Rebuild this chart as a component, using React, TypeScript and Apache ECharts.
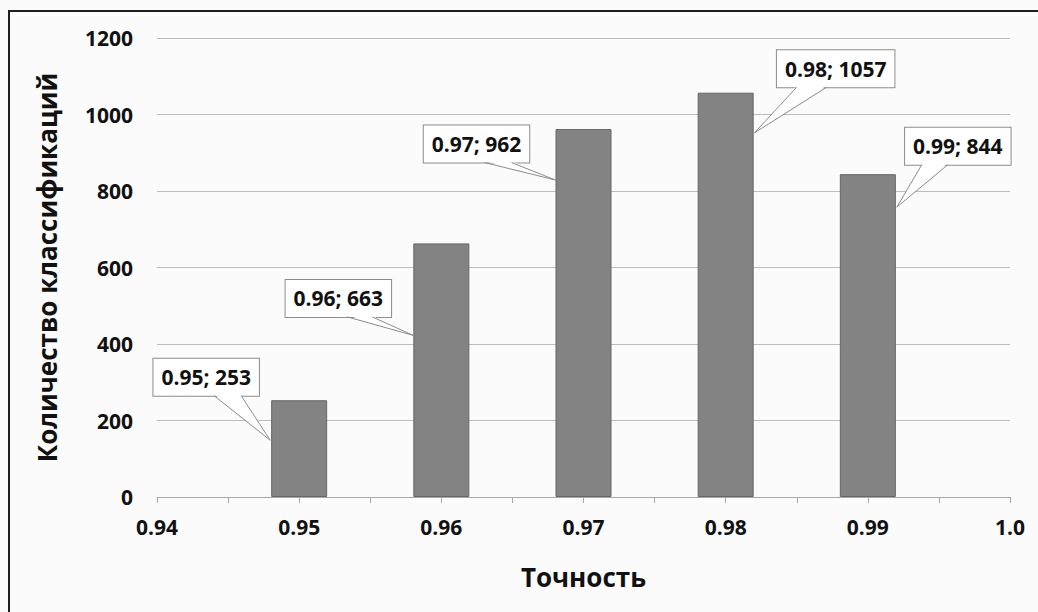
import React, { useEffect, useRef } from "react";
import * as echarts from "echarts";

const accuracy = [0.95, 0.96, 0.97, 0.98, 0.99];
const counts = [253, 663, 962, 1057, 844];
const xTicks = { min: 0.94, max: 1.0, step: 0.01 };
const yTicks = { min: 0, max: 1200, step: 200 };
const xTitle = "Точность";
const yTitle = "Количество классификаций";

// callout placement relative to the top-centre of each bar (pixels)
const calloutLayout = [
  { box: [-93, -23], anchor: [-29, 40], base: [8, 35] },
  { box: [-103, 55], anchor: [-28, 92], base: [9, 34] },
  { box: [-107, 15], anchor: [-28, 51], base: [8, 35] },
  { box: [110, -24], anchor: [29, 40], base: [-39, -9] },
  { box: [90, -28], anchor: [29, 33], base: [-36, -10] },
];

const FONT = "'Open Sans', 'Noto Sans', sans-serif";
const TEXT = "#111111";

export default function App() {
  const ref = useRef<HTMLDivElement>(null);
  useEffect(() => {
    document.body.style.margin = "0";
    const chart = echarts.init(ref.current!, null, { renderer: "svg" });
    const fmtX = (v: number) => (Math.abs(v - 1) < 1e-9 ? "1.0" : v.toFixed(2));
    const pts = accuracy.map((a, i) => [a, counts[i]]);
    chart.setOption({
      animation: false,
      backgroundColor: "#fbfbfb",
      grid: { left: 157, right: 28, top: 38, bottom: 115, containLabel: false },
      xAxis: {
        type: "value",
        min: xTicks.min,
        max: xTicks.max,
        interval: xTicks.step,
        name: xTitle,
        nameLocation: "middle",
        nameGap: 67,
        nameTextStyle: { fontFamily: FONT, fontWeight: "bold", fontSize: 26, color: TEXT },
        axisLine: { show: true, lineStyle: { color: "#a8a8a8", width: 1 } },
        axisTick: { show: true, length: 6, lineStyle: { color: "#a8a8a8" } },
        minorTick: { show: true, splitNumber: 2, length: 6, lineStyle: { color: "#a8a8a8" } },
        splitLine: { show: false },
        axisLabel: {
          formatter: fmtX,
          margin: 19,
          fontFamily: FONT,
          fontWeight: "bold",
          fontSize: 21,
          color: TEXT,
        },
      },
      yAxis: {
        type: "value",
        min: yTicks.min,
        max: yTicks.max,
        interval: yTicks.step,
        name: yTitle,
        nameLocation: "middle",
        nameRotate: 90,
        nameGap: 97,
        nameTextStyle: { fontFamily: FONT, fontWeight: "bold", fontSize: 26, color: TEXT },
        axisLine: { show: false },
        axisTick: { show: false },
        splitLine: { show: true, lineStyle: { color: "#bdbdbd", width: 1 } },
        axisLabel: {
          formatter: (v: number) => String(v),
          margin: 24,
          fontFamily: FONT,
          fontWeight: "bold",
          fontSize: 21,
          color: TEXT,
        },
      },
      series: [
        {
          type: "bar",
          data: pts,
          barWidth: 56,
          itemStyle: { color: "#838383", borderColor: "#666666", borderWidth: 1 },
          z: 2,
        },
        {
          type: "custom",
          data: pts,
          z: 5,
          renderItem: (params: any, api: any) => {
            const x = api.value(0);
            const y = api.value(1);
            const p = api.coord([x, y]);
            const L = calloutLayout[params.dataIndex];
            const bx = p[0] + L.box[0];
            const by = p[1] + L.box[1];
            const ax = p[0] + L.anchor[0];
            const ay = p[1] + L.anchor[1];
            const bottom = by + 18.5;
            const b1 = bx + L.base[0];
            const b2 = bx + L.base[1];
            const label = `${fmtX(x)}; ${y}`;
            return {
              type: "group",
              children: [
                {
                  type: "text",
                  x: bx,
                  y: by,
                  style: {
                    text: label,
                    fontFamily: FONT,
                    fontWeight: "bold",
                    fontSize: 21,
                    lineHeight: 21,
                    fill: TEXT,
                    align: "center",
                    verticalAlign: "middle",
                    backgroundColor: "#ffffff",
                    borderColor: "#8c8c8c",
                    borderWidth: 1,
                    padding: [8, 8],
                  },
                },
                {
                  type: "polygon",
                  shape: { points: [[b1 + 0.5, bottom - 1.5], [ax, ay], [b2 - 0.5, bottom - 1.5]] },
                  style: { fill: "#ffffff", stroke: null },
                },
                {
                  type: "polyline",
                  shape: { points: [[b1, bottom], [ax, ay], [b2, bottom]] },
                  style: { fill: null, stroke: "#8c8c8c", lineWidth: 1 },
                },
              ],
            };
          },
        },
      ],
      graphic: [
        {
          type: "rect",
          shape: { x: 9, y: 11, width: 1100, height: 700 },
          style: { fill: "none", stroke: "#1e1e1e", lineWidth: 2 },
          silent: true,
        },
      ],
    });
    return () => chart.dispose();
  }, []);
  return <div ref={ref} style={{ width: 1038, height: 612 }} />;
}
